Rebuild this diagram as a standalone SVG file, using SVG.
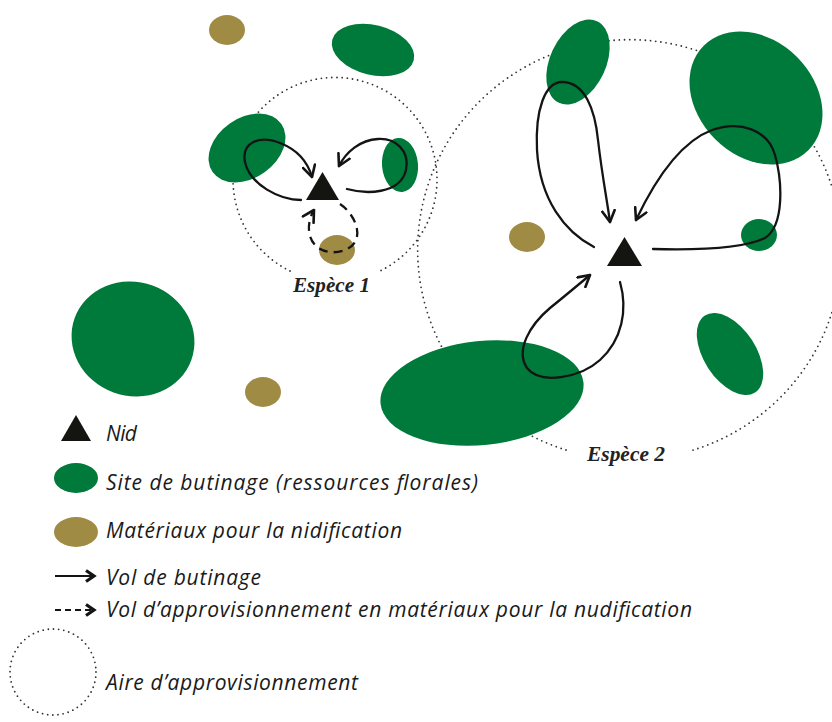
<svg xmlns="http://www.w3.org/2000/svg" width="832" height="722" viewBox="0 0 832 722">
<style>
.g{fill:#007a3a}
.o{fill:#a08b45}
.area{fill:none;stroke:#333;stroke-width:1.8;stroke-dasharray:0 5.2;stroke-linecap:round}
.fl{fill:none;stroke:#141414;stroke-width:2.3;stroke-linecap:round}
.dash{stroke-dasharray:9 6;stroke-linecap:butt}
.nest{fill:#141410}
.lbl{font-family:"Open Sans","Noto Sans",sans-serif;font-style:italic;font-size:21px;fill:#1a1a1a}
.sp{font-family:"Liberation Serif","DejaVu Serif",serif;font-style:italic;font-weight:bold;font-size:20px;fill:#222}
.lh{fill:none;stroke:#141414;stroke-width:3.2;stroke-linejoin:miter;stroke-linecap:butt}
</style>
<defs>
<marker id="ah" viewBox="0 0 12 12" refX="10" refY="6" markerWidth="6.5" markerHeight="6.5" orient="auto" markerUnits="strokeWidth">
<path d="M1,1 L10,6 L1,11" fill="none" stroke="#141414" stroke-width="2.1" stroke-linecap="round" stroke-linejoin="round"/>
</marker>
</defs>

<g id="areas">
<path class="area" d="M 290 271 A 102 102 0 1 1 380 271"/>
<path class="area" d="M 566 450 A 212 210 0 1 1 690 451"/>
</g>

<g id="forage-sites">
<ellipse class="g" cx="373" cy="50" rx="42" ry="25" transform="rotate(14 373 50)"/>
<ellipse class="g" cx="247" cy="148" rx="42" ry="30" transform="rotate(-35 247 148)"/>
<ellipse class="g" cx="400" cy="165" rx="18" ry="27" transform="rotate(-5 400 165)"/>
<ellipse class="g" cx="133" cy="339" rx="62" ry="57" transform="rotate(20 133 339)"/>
<ellipse class="g" cx="578" cy="62" rx="28" ry="45" transform="rotate(25 578 62)"/>
<ellipse class="g" cx="756" cy="98" rx="74" ry="58" transform="rotate(45 756 98)"/>
<ellipse class="g" cx="759" cy="235" rx="18" ry="16"/>
<ellipse class="g" cx="730" cy="354" rx="26" ry="46" transform="rotate(-33 730 354)"/>
<ellipse class="g" cx="482" cy="393" rx="102" ry="52" transform="rotate(-6 482 393)"/>
</g>

<g id="materials">
<ellipse class="o" cx="227" cy="30" rx="18" ry="15"/>
<ellipse class="o" cx="337" cy="250" rx="18" ry="15"/>
<ellipse class="o" cx="263" cy="392" rx="18" ry="15"/>
<ellipse class="o" cx="527" cy="237" rx="18" ry="15"/>
</g>

<g id="connectors">
<path class="fl" marker-end="url(#ah)" d="M 301 200 C 280 200, 250 185, 245 162 C 241 142, 260 135, 280 143 C 298 150, 308 163, 312 177"/>
<path class="fl" marker-end="url(#ah)" d="M 347 189 C 365 194, 400 195, 406 170 C 410 150, 395 138, 378 139 C 360 140, 346 152, 339 166"/>
<path class="fl dash" marker-end="url(#ah)" d="M 340 204 C 352 212, 362 230, 355 242 C 348 254, 325 256, 315 245 C 306 235, 308 220, 314 210"/>
<path class="fl" marker-end="url(#ah)" d="M 594 247 C 565 232, 540 200, 537 150 C 535 110, 545 82, 562 82 C 585 82, 595 110, 598 140 C 602 175, 607 200, 610 222"/>
<path class="fl" marker-end="url(#ah)" d="M 653 249 C 690 250, 740 250, 765 238 C 785 225, 782 180, 775 155 C 768 130, 740 120, 712 130 C 680 142, 655 180, 636 220"/>
<path class="fl" marker-end="url(#ah)" d="M 620 282 C 628 310, 622 340, 600 360 C 580 378, 540 385, 527 368 C 515 350, 530 325, 550 308 C 565 296, 578 285, 590 275"/>
</g>

<g id="nest-1"><polygon class="nest" points="306,200 339,200 322.5,172"/></g>
<g id="nest-2"><polygon class="nest" points="607,266 642,266 624.5,237"/></g>

<g id="species-labels">
<text class="sp" x="293" y="292" textLength="77" lengthAdjust="spacingAndGlyphs">Espèce 1</text>
<text class="sp" x="587" y="461" textLength="78" lengthAdjust="spacingAndGlyphs">Espèce 2</text>
</g>

<g id="legend">
<polygon class="nest" points="61,441 91,441 76,415"/>
<text class="lbl" x="106" y="441" textLength="31">Nid</text>
<ellipse class="g" cx="76" cy="478" rx="22" ry="15"/>
<text class="lbl" x="106" y="490" textLength="372">Site de butinage (ressources florales)</text>
<ellipse class="o" cx="76" cy="532" rx="22" ry="15"/>
<text class="lbl" x="106" y="538" textLength="296">Matériaux pour la nidification</text>
<g id="legend-solid-arrow">
<line x1="55" y1="576" x2="93" y2="576" stroke="#141414" stroke-width="2"/>
<polyline class="lh" points="86,570.5 94,576 86,581.5"/>
</g>
<text class="lbl" x="106" y="585" textLength="155">Vol de butinage</text>
<g id="legend-dashed-arrow">
<line x1="55" y1="610" x2="91" y2="610" stroke="#141414" stroke-width="2" stroke-dasharray="6 4"/>
<polyline class="lh" points="86,604.5 94,610 86,615.5"/>
</g>
<text class="lbl" x="106" y="617" textLength="586">Vol d’approvisionnement en matériaux pour la nudification</text>
<circle class="area" cx="53" cy="672" r="43"/>
<text class="lbl" x="106" y="690" textLength="252">Aire d’approvisionnement</text>
</g>
</svg>
